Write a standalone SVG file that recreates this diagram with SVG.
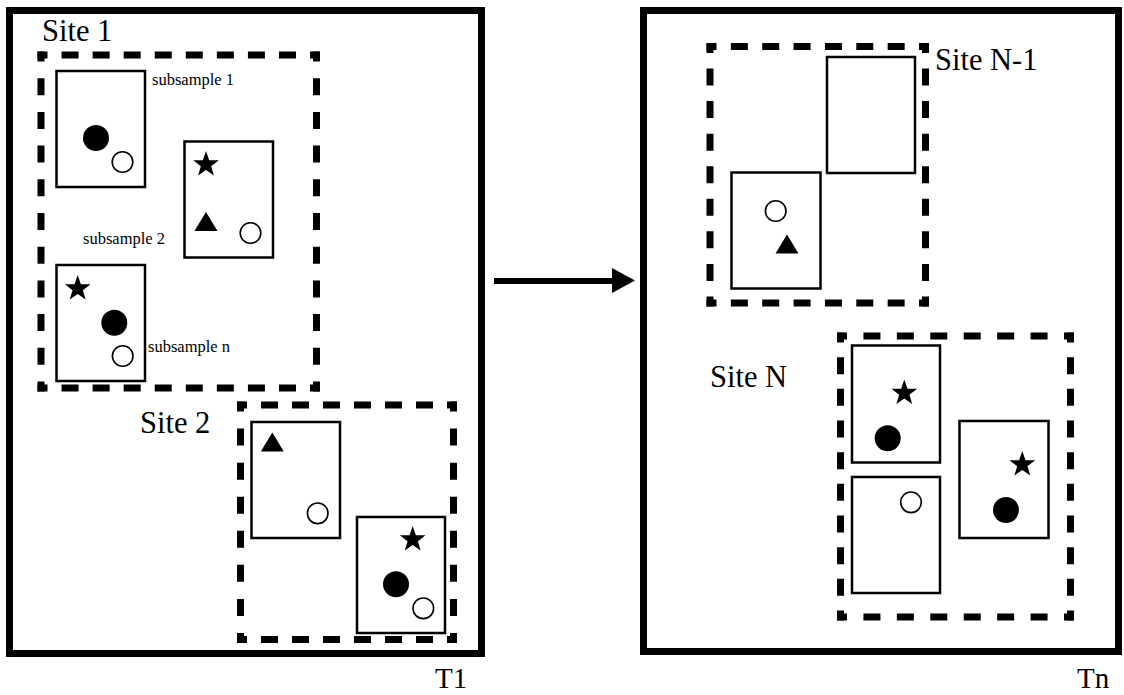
<svg xmlns="http://www.w3.org/2000/svg" xmlns:xlink="http://www.w3.org/1999/xlink" width="1124" height="695" viewBox="0 0 1124 695">
<style>
.frame{fill:none;stroke:#000;stroke-width:7}
.site path{fill:none;stroke:#000;stroke-width:7;stroke-dashoffset:7}
.sub{fill:#fff;stroke:#000;stroke-width:2.5}
.dot{fill:#000}
.ring{fill:#fff;stroke:#000;stroke-width:1.6}
.big{font-family:"Liberation Serif",serif;font-size:30.5px;fill:#000}
.tl{font-family:"Liberation Serif",serif;font-size:29px;fill:#000}
.small{font-family:"Liberation Serif",serif;font-size:16.5px;fill:#000}
</style>
<defs>
<path id="star" d="M0,-13.5 L3.17,-4.37 L12.84,-4.17 L5.14,1.67 L7.94,10.92 L0,5.4 L-7.94,10.92 L-5.14,1.67 L-12.84,-4.17 L-3.17,-4.37 Z" fill="#000"/>
<path id="tri" d="M0,0 L11.5,19 L-11.5,19 Z" fill="#000"/>
</defs>
<rect width="1124" height="695" fill="#fff"/>

<g id="T1">
<rect class="frame" x="9.5" y="10.5" width="472" height="643"/>
<text class="tl" x="435" y="688">T1</text>
</g>

<g id="Tn">
<rect class="frame" x="643.5" y="10.5" width="475" height="641"/>
<text class="tl" x="1077" y="688">Tn</text>
</g>

<g id="site1">
<g class="site">
<path d="M37.5,55 H320 M37.5,388 H320" stroke-dasharray="17 14.06"/>
<path d="M41,51.5 V391.5 M316.5,51.5 V391.5" stroke-dasharray="17 16.7"/>
</g>
<text class="big" x="42" y="41">Site 1</text>
<g id="s1-sub1">
<rect class="sub" x="56.5" y="71" width="88.5" height="116"/>
<circle class="dot" cx="96" cy="138" r="13"/>
<circle class="ring" cx="122.5" cy="162" r="10.3"/>
<text class="small" x="152" y="85">subsample 1</text>
</g>
<g id="s1-sub2">
<rect class="sub" x="184.5" y="141.5" width="88.5" height="116"/>
<use xlink:href="#star" x="206" y="164.5"/>
<use xlink:href="#tri" x="206" y="212"/>
<circle class="ring" cx="250.5" cy="233" r="10.3"/>
<text class="small" x="83" y="244">subsample 2</text>
</g>
<g id="s1-subn">
<rect class="sub" x="56.5" y="265" width="88.5" height="116"/>
<use xlink:href="#star" x="77.7" y="288.5"/>
<circle class="dot" cx="114.3" cy="322.7" r="13"/>
<circle class="ring" cx="122.7" cy="356" r="10.3"/>
<text class="small" x="148" y="351.5">subsample n</text>
</g>
</g>

<g id="site2">
<g class="site">
<path d="M237,405 H457 M237,639.5 H457" stroke-dasharray="17 14"/>
<path d="M240.5,401.5 V643 M453.5,401.5 V643" stroke-dasharray="17 17.07"/>
</g>
<text class="big" x="140" y="433">Site 2</text>
<g id="s2-subA">
<rect class="sub" x="251.5" y="422" width="88.5" height="116"/>
<use xlink:href="#tri" x="272.3" y="432.5"/>
<circle class="ring" cx="317.7" cy="513.3" r="10.3"/>
</g>
<g id="s2-subB">
<rect class="sub" x="357" y="517" width="88" height="116"/>
<use xlink:href="#star" x="412.7" y="539.5"/>
<circle class="dot" cx="396" cy="584.3" r="13"/>
<circle class="ring" cx="423.3" cy="608.3" r="10.3"/>
</g>
</g>

<g id="siteN1">
<g class="site">
<path d="M706.5,46.5 H929 M706.5,303 H929" stroke-dasharray="17 14.36"/>
<path d="M710,43 V306.5 M925.5,43 V306.5" stroke-dasharray="17 15.56"/>
</g>
<text class="big" x="935" y="70">Site N-1</text>
<g id="sN1-subA">
<rect class="sub" x="827" y="57" width="88" height="116"/>
</g>
<g id="sN1-subB">
<rect class="sub" x="731.5" y="172.5" width="89" height="116"/>
<circle class="ring" cx="775.7" cy="211" r="10.3"/>
<use xlink:href="#tri" x="787" y="234.5"/>
</g>
</g>

<g id="siteN">
<g class="site">
<path d="M837,336 H1074 M837,617 H1074" stroke-dasharray="17 16.43"/>
<path d="M840.5,332.5 V620.5 M1070.5,332.5 V620.5" stroke-dasharray="17 14.67"/>
</g>
<text class="big" x="710" y="387">Site N</text>
<g id="sN-subA">
<rect class="sub" x="852" y="345.5" width="88" height="117"/>
<use xlink:href="#star" x="904.3" y="393"/>
<circle class="dot" cx="887.7" cy="438.3" r="13"/>
</g>
<g id="sN-subB">
<rect class="sub" x="852" y="477" width="88" height="116"/>
<circle class="ring" cx="911" cy="502.3" r="10.3"/>
</g>
<g id="sN-subC">
<rect class="sub" x="959.5" y="421" width="89" height="117"/>
<use xlink:href="#star" x="1022.3" y="464.5"/>
<circle class="dot" cx="1006" cy="510" r="13"/>
</g>
</g>

<g id="connectors">
<line x1="494" y1="281" x2="615" y2="281" stroke="#000" stroke-width="6"/>
<polygon points="612,268 635,280.5 612,293" fill="#000"/>
</g>
</svg>
